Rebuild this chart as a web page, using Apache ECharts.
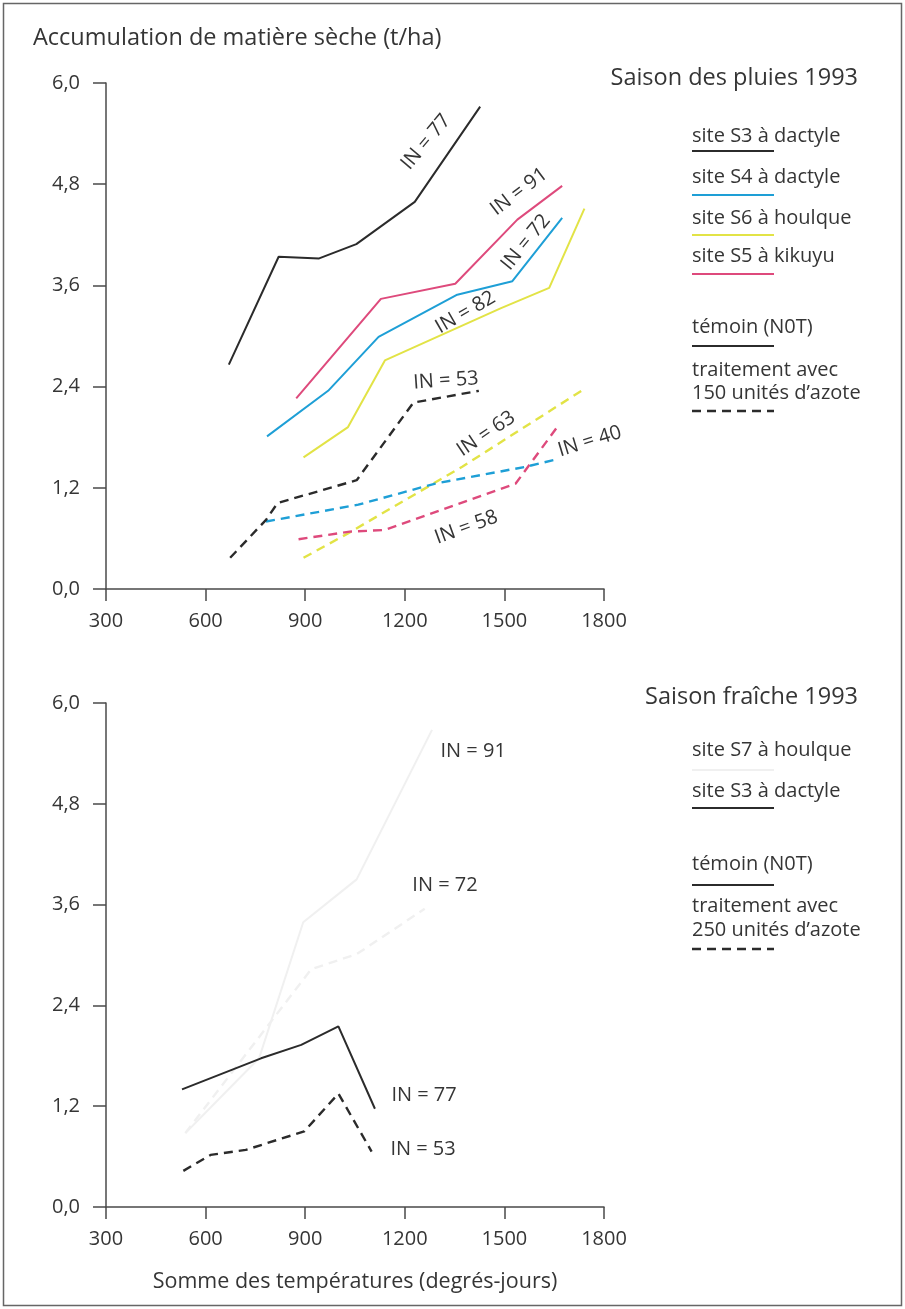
<!DOCTYPE html>
<html>
<head>
<meta charset="utf-8">
<script src="https://cdn.jsdelivr.net/npm/echarts@6/dist/echarts.min.js"></script>
<style>
  html, body { margin: 0; padding: 0; background: #fff; }
  #chart { width: 905px; height: 1309px; }
</style>
</head>
<body>
<div id="chart"></div>
<script>
// Temperature sums (degree-days) and dry-matter accumulation (t/ha)
const xTicks = [300, 600, 900, 1200, 1500, 1800];
const yTicks = [0, 1.2, 2.4, 3.6, 4.8, 6.0];

// Rainy season 1993 – control (solid)
const rainS3Control = [[670, 2.66], [820, 3.94], [942, 3.92], [1054, 4.09], [1230, 4.59], [1427, 5.72]];
const rainS4Control = [[785, 1.81], [969, 2.35], [1121, 2.99], [1358, 3.49], [1524, 3.65], [1674, 4.40]];
const rainS6Control = [[895, 1.56], [1029, 1.92], [1140, 2.71], [1490, 3.33], [1635, 3.57], [1741, 4.51]];
const rainS5Control = [[873, 2.26], [1128, 3.44], [1352, 3.62], [1539, 4.38], [1674, 4.78]];
// Rainy season 1993 – 150 N units (dashed)
const rainS3Nitrogen = [[674, 0.37], [782, 0.82], [817, 1.02], [1055, 1.29], [1226, 2.21], [1423, 2.35]];
const rainS4Nitrogen = [[782, 0.80], [1060, 1.00], [1292, 1.25], [1565, 1.45], [1661, 1.54]];
const rainS6Nitrogen = [[895, 0.37], [1029, 0.66], [1373, 1.45], [1736, 2.36]];
const rainS5Nitrogen = [[880, 0.59], [1034, 0.68], [1140, 0.70], [1534, 1.25], [1661, 1.93]];

// Cool season 1993
const coolS3Control = [[529, 1.40], [767, 1.77], [888, 1.93], [1000, 2.15], [1110, 1.17]];
const coolS3Nitrogen = [[533, 0.43], [615, 0.62], [721, 0.68], [897, 0.90], [1000, 1.35], [1100, 0.66]];
const coolS7Control = [[539, 0.88], [761, 1.77], [894, 3.39], [1055, 3.90], [1282, 5.68]];
const coolS7Nitrogen = [[539, 0.88], [918, 2.83], [1055, 3.01], [1260, 3.55]];

// Nitrogen index annotations: [grid, x, y, text, angle in degrees]
const inNotes = [
  [0, 1264, 5.30, 'IN = 77', 50],
  [0, 1544, 4.71, 'IN = 91', 37],
  [0, 1565, 4.11, 'IN = 72', 51],
  [0, 1383, 3.28, 'IN = 82', 30],
  [0, 1324, 2.47, 'IN = 53', 4],
  [0, 1445, 1.84, 'IN = 63', 34],
  [0, 1757, 1.75, 'IN = 40', 17],
  [0, 1385, 0.73, 'IN = 58', 20],
  [1, 1406, 5.42, 'IN = 91', 0],
  [1, 1321, 3.83, 'IN = 72', 0],
  [1, 1258, 1.33, 'IN = 77', 0],
  [1, 1255, 0.69, 'IN = 53', 0]
];

const FONT = '"Open Sans"';
const TEXT = '#353535';
const AXIS = '#4a4a4a';
const C_BLACK = '#2b2b2b';
const C_BLUE = '#1e9fd6';
const C_YELLOW = '#e2e346';
const C_PINK = '#de4a7c';
const C_FAINT = '#f0f0f0';

const chart = echarts.init(document.getElementById('chart'), null, { renderer: 'canvas' });

function xAxisFor(i, withName) {
  return {
    type: 'value', gridIndex: i, min: xTicks[0], max: xTicks[xTicks.length - 1], interval: 300,
    axisLine: { lineStyle: { color: AXIS, width: 1.5 } },
    axisTick: { show: true, length: 12, lineStyle: { color: AXIS, width: 1.5 } },
    axisLabel: { color: TEXT, fontFamily: FONT, fontSize: 20, margin: 22,
      formatter: v => String(v) },
    splitLine: { show: false },
    name: withName ? 'Somme des températures (degrés-jours)' : '',
    nameLocation: 'middle', nameGap: 64,
    nameTextStyle: { color: TEXT, fontFamily: FONT, fontSize: 21.5 }
  };
}
function yAxisFor(i) {
  return {
    type: 'value', gridIndex: i, min: yTicks[0], max: yTicks[yTicks.length - 1], interval: 1.2,
    axisLine: { show: true, lineStyle: { color: AXIS, width: 1.5 } },
    axisTick: { show: true, length: 13, lineStyle: { color: AXIS, width: 1.5 } },
    axisLabel: { color: TEXT, fontFamily: FONT, fontSize: 20, margin: 26,
      formatter: v => v.toFixed(1).replace('.', ',') },
    splitLine: { show: false }
  };
}
function line(data, color, grid, dashed, z) {
  return {
    type: 'line', xAxisIndex: grid, yAxisIndex: grid, data: data,
    symbol: 'none', silent: true, animation: false, z: z || 3,
    lineStyle: { color: color, width: dashed ? 2.4 : 2, type: dashed ? [9, 6] : 'solid' }
  };
}

chart.setOption({
  backgroundColor: '#fff',
  animation: false,
  grid: [
    { left: 106, top: 83, width: 498, height: 506 },
    { left: 106, top: 703, width: 498, height: 504 }
  ],
  xAxis: [xAxisFor(0, false), xAxisFor(1, true)],
  yAxis: [yAxisFor(0), yAxisFor(1)],
  series: [
    line(rainS3Control, C_BLACK, 0, false),
    line(rainS4Control, C_BLUE, 0, false),
    line(rainS6Control, C_YELLOW, 0, false),
    line(rainS5Control, C_PINK, 0, false),
    line(rainS6Nitrogen, C_YELLOW, 0, true, 2),
    line(rainS5Nitrogen, C_PINK, 0, true),
    line(rainS4Nitrogen, C_BLUE, 0, true),
    line(rainS3Nitrogen, C_BLACK, 0, true),
    line(coolS7Control, C_FAINT, 1, false, 2),
    line(coolS7Nitrogen, C_FAINT, 1, true, 2),
    line(coolS3Control, C_BLACK, 1, false),
    line(coolS3Nitrogen, C_BLACK, 1, true)
  ]
});

// Legend blocks, titles and annotations drawn as graphic elements
const g = [];
function txt(x, y, s, opts) {
  g.push({ type: 'text', x: x, y: y, silent: true, rotation: (opts && opts.rot) || 0,
    style: { text: s, fill: TEXT, font: ((opts && opts.size) || 20) + 'px ' + FONT,
      align: (opts && opts.align) || 'left', verticalAlign: 'middle' } });
}
function seg(y, color, dashed) {
  g.push({ type: 'line', silent: true,
    shape: { x1: 692, y1: y, x2: 774, y2: y },
    style: { stroke: color, lineWidth: dashed ? 2.4 : 2, lineDash: dashed ? [9, 6] : null } });
}

g.push({ type: 'rect', silent: true, shape: { x: 3.5, y: 3.5, width: 898, height: 1302 },
  style: { fill: 'none', stroke: '#666', lineWidth: 1.5 } });

txt(33, 38, 'Accumulation de matière sèche (t/ha)', { size: 23.5 });

// Rainy season legend
txt(858, 78, 'Saison des pluies 1993', { size: 23.5, align: 'right' });
txt(692, 136, 'site S3 à dactyle'); seg(151, C_BLACK);
txt(692, 177, 'site S4 à dactyle'); seg(195, C_BLUE);
txt(692, 218, 'site S6 à houlque'); seg(235, C_YELLOW);
txt(692, 256, 'site S5 à kikuyu'); seg(274, C_PINK);
txt(692, 327, 'témoin (N0T)'); seg(346, C_BLACK);
txt(692, 370, 'traitement avec');
txt(692, 393, '150 unités d’azote'); seg(411, C_BLACK, true);

// Cool season legend
txt(858, 697, 'Saison fraîche 1993', { size: 23.5, align: 'right' });
txt(692, 750, 'site S7 à houlque'); seg(770, C_FAINT);
txt(692, 791, 'site S3 à dactyle'); seg(808, C_BLACK);
txt(692, 864, 'témoin (N0T)'); seg(885, C_BLACK);
txt(692, 906, 'traitement avec');
txt(692, 930, '250 unités d’azote'); seg(949, C_BLACK, true);

inNotes.forEach(n => {
  const p = chart.convertToPixel({ gridIndex: n[0] }, [n[1], n[2]]);
  txt(p[0], p[1], n[3], { size: 20, align: 'center', rot: n[4] * Math.PI / 180 });
});

chart.setOption({ graphic: g });
</script>
</body>
</html>
